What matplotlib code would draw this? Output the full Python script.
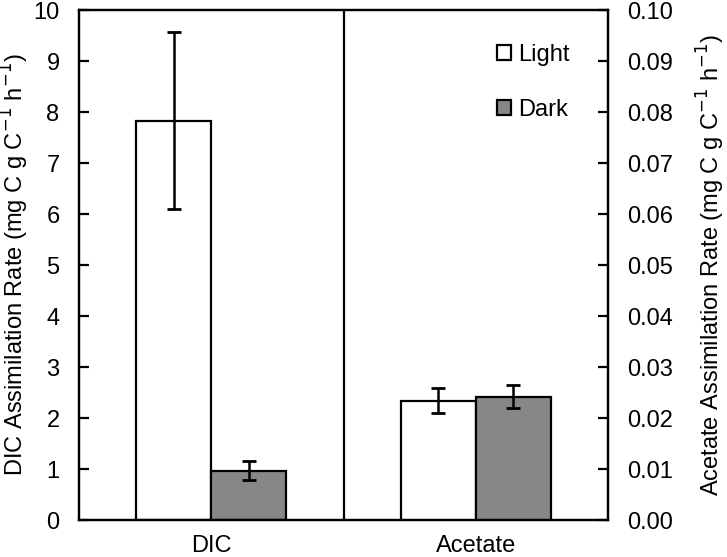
import numpy as np
import matplotlib.pyplot as plt
from matplotlib.patches import Patch

plt.rcParams['font.family'] = ['Liberation Sans', 'DejaVu Sans']

# data
groups = ['DIC', 'Acetate']
dic_light, dic_light_err = 7.83, 1.73
dic_dark, dic_dark_err = 0.97, 0.19
ace_light, ace_light_err = 0.0234, 0.0025
ace_dark, ace_dark_err = 0.0242, 0.0023

light_col = 'white'
dark_col = '#878787'
w = 0.284
fs = 17

fig = plt.figure(figsize=(7.27, 5.57), dpi=100)
ax = fig.add_axes([0.1087, 0.0664, 0.7276, 0.9156])
ax2 = ax.twinx()

ekw = dict(elinewidth=1.8, capsize=5, capthick=2, ecolor='black')
ax.bar(0 - w/2, dic_light, w, color=light_col, edgecolor='black', linewidth=1.6,
       yerr=dic_light_err, error_kw=ekw, zorder=2)
ax.bar(0 + w/2, dic_dark, w, color=dark_col, edgecolor='black', linewidth=1.6,
       yerr=dic_dark_err, error_kw=ekw, zorder=2)
ax2.bar(1 - w/2, ace_light, w, color=light_col, edgecolor='black', linewidth=1.6,
        yerr=ace_light_err, error_kw=ekw, zorder=2)
ax2.bar(1 + w/2, ace_dark, w, color=dark_col, edgecolor='black', linewidth=1.6,
        yerr=ace_dark_err, error_kw=ekw, zorder=2)

ax.axvline(0.5, color='black', linewidth=1.6)

ax.set_xlim(-0.5, 1.5)
ax.set_ylim(0, 10)
ax2.set_ylim(0, 0.10)
ax.set_yticks(np.arange(0, 11, 1))
ax2.set_yticks(np.arange(0, 0.101, 0.01))
ax2.set_yticklabels(['%.2f' % v for v in np.arange(0, 0.101, 0.01)])
ax.set_xticks([0, 1])
ax.set_xticklabels(groups)

for a in (ax, ax2):
    for s in a.spines.values():
        s.set_linewidth(1.6)
ax.tick_params(axis='y', direction='in', length=7, width=1.6, labelsize=fs, pad=14)
ax2.tick_params(axis='y', direction='in', length=7, width=1.6, labelsize=fs, pad=14)
ax.tick_params(axis='x', length=0, labelsize=fs, pad=11)

ax.set_ylabel(r'DIC Assimilation Rate (mg C g C$^{-1}$ h$^{-1}$)', fontsize=fs)
ax2.set_ylabel(r'Acetate Assimilation Rate (mg C g C$^{-1}$ h$^{-1}$)', fontsize=fs)
ax.yaxis.set_label_coords(-0.09, 0.5)
ax2.yaxis.set_label_coords(1.165, 0.5)

handles = [Patch(facecolor=light_col, edgecolor='black', linewidth=1.6),
           Patch(facecolor=dark_col, edgecolor='black', linewidth=1.6)]
ax2.legend(handles, ['Light', 'Dark'], loc='upper left', bbox_to_anchor=(0.75, 0.975),
           frameon=False, fontsize=fs, handlelength=0.6, handleheight=0.6,
           handletextpad=0.3, labelspacing=1.4)

fig.savefig('out.png', dpi=100)
